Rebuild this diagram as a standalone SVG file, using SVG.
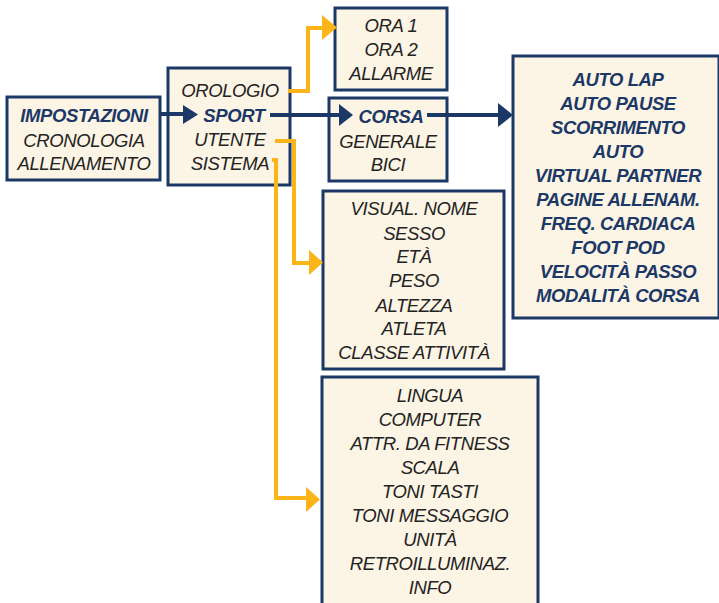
<svg xmlns="http://www.w3.org/2000/svg" width="719" height="603" viewBox="0 0 719 603">
<style>
.box{fill:#fcf4e4;stroke:#1b3866;stroke-width:3}
text{font-family:"Liberation Sans",Arial,sans-serif;font-style:italic;font-size:18.5px;letter-spacing:-0.4px;text-anchor:middle;fill:#232323}
.b{font-weight:bold;fill:#1b3866}
.nv{fill:none;stroke:#1b3866;stroke-width:4}
.yl{fill:none;stroke:#fbb519;stroke-width:4}
.nvh{fill:#1b3866}
.ylh{fill:#fbb519}
</style>
<rect width="719" height="603" fill="#ffffff"/>
<g id="impostazioni">
<rect class="box" x="7" y="97" width="153" height="83"/>
<text x="84" y="122" class="b">IMPOSTAZIONI</text>
<text x="84" y="147">CRONOLOGIA</text>
<text x="84" y="170">ALLENAMENTO</text>
</g>
<g id="menu">
<rect class="box" x="168" y="68" width="122" height="117"/>
<text x="230" y="97">OROLOGIO</text>
<text x="234" y="122" class="b">SPORT</text>
<text x="230" y="146">UTENTE</text>
<text x="230" y="170">SISTEMA</text>
</g>
<g id="orologio">
<rect class="box" x="335" y="8" width="112" height="82"/>
<text x="391" y="32">ORA 1</text>
<text x="391" y="56">ORA 2</text>
<text x="391" y="80">ALLARME</text>
</g>
<g id="sport">
<rect class="box" x="329" y="98" width="118" height="83"/>
<text x="391" y="123" class="b">CORSA</text>
<text x="388" y="148">GENERALE</text>
<text x="388" y="171">BICI</text>
</g>
<g id="corsa">
<rect class="box" x="513" y="56" width="206" height="262"/>
<text x="618" y="86" class="b">AUTO LAP</text>
<text x="618" y="110" class="b">AUTO PAUSE</text>
<text x="618" y="134" class="b">SCORRIMENTO</text>
<text x="618" y="158" class="b">AUTO</text>
<text x="618" y="182" class="b">VIRTUAL PARTNER</text>
<text x="618" y="206" class="b">PAGINE ALLENAM.</text>
<text x="618" y="230" class="b">FREQ. CARDIACA</text>
<text x="618" y="254" class="b">FOOT POD</text>
<text x="618" y="278" class="b">VELOCITÀ PASSO</text>
<text x="618" y="302" class="b">MODALITÀ CORSA</text>
</g>
<g id="utente">
<rect class="box" x="323" y="191" width="181" height="178"/>
<text x="414" y="215">VISUAL. NOME</text>
<text x="414" y="240">SESSO</text>
<text x="414" y="263">ETÀ</text>
<text x="414" y="287">PESO</text>
<text x="414" y="312">ALTEZZA</text>
<text x="414" y="335">ATLETA</text>
<text x="414" y="359">CLASSE ATTIVITÀ</text>
</g>
<g id="sistema">
<rect class="box" x="322" y="377" width="216" height="240"/>
<text x="430" y="402">LINGUA</text>
<text x="430" y="426">COMPUTER</text>
<text x="430" y="450">ATTR. DA FITNESS</text>
<text x="430" y="474">SCALA</text>
<text x="430" y="498">TONI TASTI</text>
<text x="430" y="522">TONI MESSAGGIO</text>
<text x="430" y="546">UNITÀ</text>
<text x="430" y="570">RETROILLUMINAZ.</text>
<text x="430" y="594">INFO</text>
</g>
<g id="connectors">
<path class="nv" d="M160 114H186"/>
<polygon class="nvh" points="183,105 198,114.5 183,124"/>
<path class="nv" d="M270 115H342"/>
<polygon class="nvh" points="339,104 353,115 339,126"/>
<path class="nv" d="M427 115H500"/>
<polygon class="nvh" points="498,103 513,115 498,127"/>
<path class="yl" d="M288 91H308V28H325"/>
<polygon class="ylh" points="322,15 337,27.5 322,40"/>
<path class="yl" d="M275 141H294V263H311"/>
<polygon class="ylh" points="309,250 323,262.5 309,275"/>
<path class="yl" d="M272 160H276V498H308"/>
<polygon class="ylh" points="306,487 320,499.5 306,512"/>
</g>
</svg>
